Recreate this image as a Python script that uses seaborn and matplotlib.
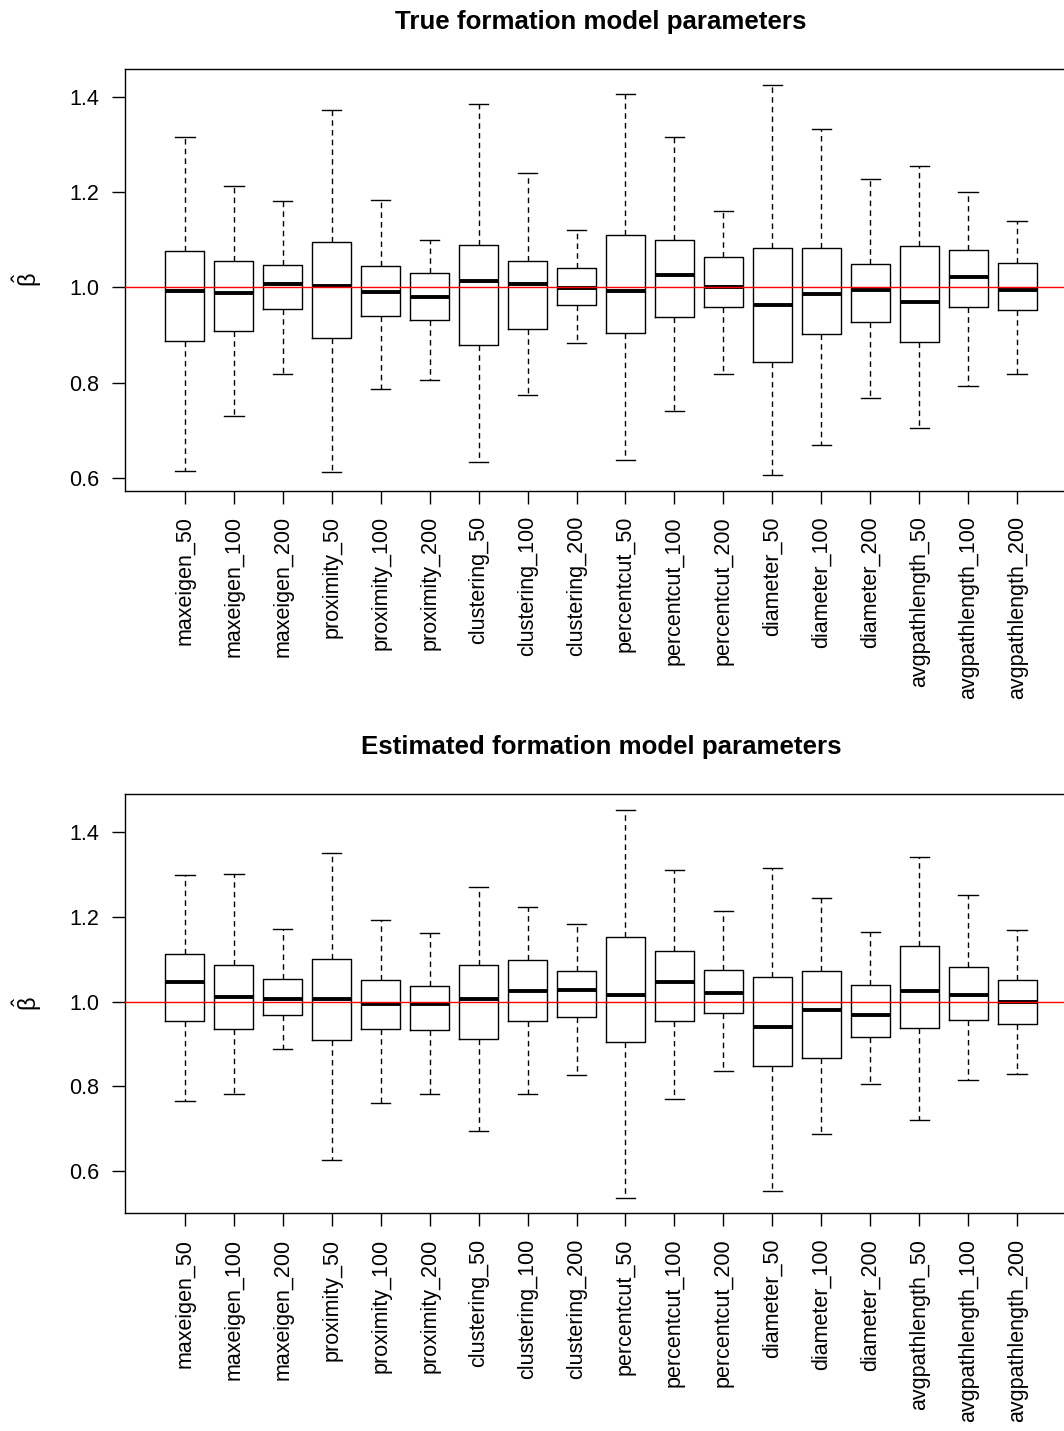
import numpy as np
import pandas as pd
import matplotlib
matplotlib.use("Agg")
import matplotlib.pyplot as plt
import seaborn as sns

groups = ["maxeigen_50", "maxeigen_100", "maxeigen_200",
          "proximity_50", "proximity_100", "proximity_200",
          "clustering_50", "clustering_100", "clustering_200",
          "percentcut_50", "percentcut_100", "percentcut_200",
          "diameter_50", "diameter_100", "diameter_200",
          "avgpathlength_50", "avgpathlength_100", "avgpathlength_200"]

# True formation model parameters (whisker ends, quartiles, median)
true_lower = [0.614, 0.730, 0.818, 0.613, 0.786, 0.805, 0.634, 0.774, 0.883,
              0.637, 0.741, 0.818, 0.606, 0.670, 0.767, 0.704, 0.793, 0.818]
true_q1 = [0.888, 0.909, 0.955, 0.894, 0.940, 0.932, 0.878, 0.913, 0.962,
           0.905, 0.938, 0.959, 0.844, 0.901, 0.928, 0.886, 0.959, 0.952]
true_median = [0.993, 0.987, 1.007, 1.002, 0.989, 0.980, 1.013, 1.007, 0.998,
               0.993, 1.026, 1.000, 0.962, 0.986, 0.994, 0.970, 1.021, 0.994]
true_q3 = [1.075, 1.054, 1.047, 1.094, 1.044, 1.030, 1.089, 1.054, 1.040,
           1.110, 1.100, 1.064, 1.083, 1.083, 1.049, 1.087, 1.079, 1.050]
true_upper = [1.315, 1.212, 1.181, 1.372, 1.183, 1.100, 1.384, 1.240, 1.121,
              1.406, 1.316, 1.160, 1.425, 1.332, 1.226, 1.255, 1.200, 1.138]

# Estimated formation model parameters
est_lower = [0.766, 0.782, 0.888, 0.627, 0.760, 0.782, 0.695, 0.782, 0.826,
             0.537, 0.770, 0.835, 0.552, 0.687, 0.805, 0.721, 0.816, 0.829]
est_q1 = [0.954, 0.936, 0.968, 0.909, 0.934, 0.932, 0.911, 0.953, 0.964,
          0.905, 0.953, 0.972, 0.849, 0.866, 0.917, 0.938, 0.957, 0.946]
est_median = [1.045, 1.011, 1.007, 1.005, 0.995, 0.993, 1.007, 1.025, 1.028,
              1.016, 1.047, 1.021, 0.939, 0.981, 0.969, 1.025, 1.016, 0.998]
est_q3 = [1.111, 1.087, 1.054, 1.100, 1.051, 1.036, 1.086, 1.098, 1.071,
          1.151, 1.118, 1.075, 1.057, 1.071, 1.038, 1.131, 1.082, 1.051]
est_upper = [1.298, 1.301, 1.172, 1.351, 1.192, 1.161, 1.271, 1.224, 1.183,
             1.452, 1.310, 1.214, 1.314, 1.243, 1.165, 1.341, 1.252, 1.169]

titles = ["True formation model parameters", "Estimated formation model parameters"]


def box_frame(lower, q1, med, q3, upper):
    """Five points per group: min/max become whisker ends, the rest the box."""
    rows = []
    for g, *vals in zip(groups, lower, q1, med, q3, upper):
        for v in vals:
            rows.append((g, v))
    return pd.DataFrame(rows, columns=["group", "value"])


plt.rcParams["font.family"] = ["Liberation Sans", "DejaVu Sans"]
plt.rcParams["mathtext.fontset"] = "custom"
plt.rcParams["mathtext.rm"] = "Liberation Sans"
plt.rcParams["mathtext.it"] = "Liberation Sans"

fig = plt.figure(figsize=(10.64, 14.31), dpi=100)
ax_top = fig.add_axes([0.1175, 0.6571, 0.8947, 0.2947])
ax_bot = fig.add_axes([0.1175, 0.1521, 0.8947, 0.2928])

panels = [
    (ax_top, box_frame(true_lower, true_q1, true_median, true_q3, true_upper)),
    (ax_bot, box_frame(est_lower, est_q1, est_median, est_q3, est_upper)),
]

for (ax, df), title in zip(panels, titles):
    sns.boxplot(data=df, x="group", y="value", order=groups, whis=(0, 100),
                width=0.8, fill=False, color="black", linewidth=1.0,
                medianprops={"linewidth": 2.8, "color": "black"},
                whiskerprops={"linestyle": (0, (4, 3)), "color": "black"},
                capprops={"color": "black"},
                boxprops={"color": "black"},
                ax=ax)
    ax.axhline(1.0, color="red", linewidth=1.0, zorder=5)

    # R style axis range: data range plus 4% on each side
    lo, hi = df["value"].min(), df["value"].max()
    pad = 0.04 * (hi - lo)
    ax.set_ylim(lo - pad, hi + pad)
    n = len(groups)
    ax.set_xlim(-0.5 - 0.04 * n, n - 0.5 + 0.04 * n)

    ax.set_yticks([0.6, 0.8, 1.0, 1.2, 1.4])
    ax.set_yticklabels(["0.6", "0.8", "1.0", "1.2", "1.4"])
    ax.set_xticks(range(n))
    ax.set_xticklabels(groups, rotation=90)
    ax.tick_params(axis="both", direction="out", length=9.3, width=1.0,
                   pad=9, labelsize=15.5, colors="black")
    for sp in ax.spines.values():
        sp.set_visible(True)
        sp.set_color("black")
        sp.set_linewidth(1.0)

    ax.set_xlabel("")
    ax.set_ylabel(r"$\hat{\beta}$", fontsize=17, labelpad=18)
    ax.set_title(title, fontsize=18.6, fontweight="bold", pad=28.8)

fig.savefig("out.png", dpi=100)
